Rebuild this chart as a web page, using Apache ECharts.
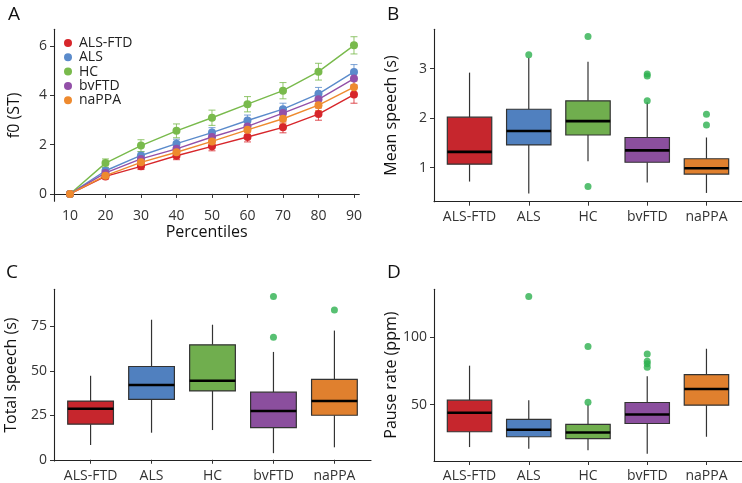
<!DOCTYPE html>
<html><head><meta charset="utf-8">
<script src="https://cdn.jsdelivr.net/npm/echarts@6/dist/echarts.min.js"></script>
<style>html,body{margin:0;padding:0;background:#fff}#c{width:742px;height:483px}</style>
</head><body><div id="c"></div><script>
// ---------- data ----------
const percentiles = [10, 20, 30, 40, 50, 60, 70, 80, 90];
const groups = ['ALS-FTD', 'ALS', 'HC', 'bvFTD', 'naPPA'];

const f0ALSFTD = [0, 0.71, 1.12, 1.55, 1.93, 2.31, 2.70, 3.24, 4.03];
const f0ALS    = [0, 0.94, 1.56, 2.04, 2.49, 2.98, 3.44, 4.06, 4.95];
const f0HC     = [0, 1.25, 1.96, 2.56, 3.09, 3.64, 4.19, 4.96, 6.03];
const f0bvFTD  = [0, 0.85, 1.42, 1.83, 2.31, 2.74, 3.28, 3.84, 4.68];
const f0naPPA  = [0, 0.74, 1.28, 1.69, 2.13, 2.60, 3.05, 3.60, 4.33];

const errALSFTD = [0, 0.10, 0.13, 0.16, 0.18, 0.20, 0.22, 0.25, 0.35];
const errALS    = [0, 0.12, 0.15, 0.18, 0.20, 0.22, 0.24, 0.26, 0.30];
const errHC     = [0, 0.17, 0.24, 0.28, 0.31, 0.31, 0.33, 0.34, 0.35];
const errbvFTD  = [0, 0.10, 0.13, 0.15, 0.17, 0.18, 0.20, 0.22, 0.25];
const errnaPPA  = [0, 0.10, 0.12, 0.14, 0.16, 0.18, 0.20, 0.22, 0.25];

// box stats: [lowerWhisker, Q1, median, Q3, upperWhisker]
const meanSpeechStats = [
  [0.72, 1.07, 1.32, 2.02, 2.92],
  [0.48, 1.46, 1.74, 2.18, 3.22],
  [1.13, 1.66, 1.94, 2.35, 3.14],
  [0.70, 1.11, 1.35, 1.61, 2.32],
  [0.49, 0.87, 0.99, 1.18, 1.61]
];
const meanSpeechOutliers = [[2, 3.28], [3, 3.65], [3, 0.62], [4, 2.89], [4, 2.85], [4, 2.35], [5, 2.08], [5, 1.86]];

const totalSpeechStats = [
  [8.3, 20.0, 28.7, 33.0, 47.2],
  [15.2, 33.9, 42.0, 52.4, 78.7],
  [16.7, 38.7, 44.4, 64.6, 75.9],
  [3.7, 18.1, 27.4, 38.0, 60.6],
  [7.0, 25.0, 33.0, 45.2, 72.6]
];
const totalSpeechOutliers = [[4, 91.7], [4, 68.9], [5, 84.1]];

const pauseRateStats = [
  [18.6, 29.9, 43.9, 53.2, 78.7],
  [17.4, 26.2, 31.4, 39.0, 53.2],
  [16.2, 24.8, 29.4, 35.3, 50.0],
  [13.7, 36.0, 42.6, 51.5, 70.8],
  [26.2, 49.5, 61.5, 72.1, 91.2]
];
const pauseRateOutliers = [[2, 129.7], [3, 92.9], [3, 51.7], [4, 87.3], [4, 81.9], [4, 80.1], [4, 77.5]];

const f0Ticks = [0, 2, 4, 6];
const meanSpeechTicks = [1, 2, 3];
const totalSpeechTicks = [0, 25, 50, 75];
const pauseRateTicks = [50, 100];

// ---------- styles ----------
const FONT = 'Open Sans';
const lineColors = ['#D7262B', '#5B8BCB', '#79BA4C', '#9350A8', '#EE8A2E'];
const boxColors = ['#C6262D', '#5080BF', '#70AE4E', '#8B4F9E', '#E0802E'];
const outlierColor = '#2DB04F';

const chart = echarts.init(document.getElementById('c'), null, {renderer: 'canvas'});

const gridA = {left: 54, top: 29.3, width: 305.3, height: 172};
const gridB = {left: 434, top: 29.3, width: 317, height: 172.4};
const gridC = {left: 54, top: 289.3, width: 317, height: 172.4};
const gridD = {left: 434, top: 289.3, width: 317, height: 172.4};

const axisLineStyle = {show: true, lineStyle: {color: '#222', width: 1.1}};
const tickStyle = {show: true, length: 4, lineStyle: {color: '#333', width: 1}};
const labelStyle = {color: '#333', fontSize: 14, fontFamily: FONT};
const nameStyle = {color: '#111', fontSize: 16, fontFamily: FONT};

function catXAxis(gridIndex) {
  const pos = [1, 2, 3, 4, 5];
  return {
    type: 'value', gridIndex, min: 0.4, max: 5.6,
    axisLine: axisLineStyle, splitLine: {show: false},
    axisTick: Object.assign({}, tickStyle, {customValues: pos}),
    axisLabel: Object.assign({}, labelStyle, {customValues: pos, margin: 8,
      formatter: v => groups[Math.round(v) - 1] || ''})
  };
}
function valYAxis(gridIndex, min, max, ticks, name, gap) {
  return {
    type: 'value', gridIndex, min, max,
    name, nameLocation: 'middle', nameGap: gap, nameTextStyle: nameStyle,
    axisLine: axisLineStyle, splitLine: {show: false},
    axisTick: Object.assign({}, tickStyle, {customValues: ticks}),
    axisLabel: Object.assign({}, labelStyle, {customValues: ticks, margin: 7})
  };
}

function boxSeries(stats, axisIndex) {
  return {
    type: 'custom', xAxisIndex: axisIndex, yAxisIndex: axisIndex,
    data: stats.map((s, i) => [i + 1].concat(s).concat([i])),
    encode: {x: 0, y: [1, 2, 3, 4, 5]},
    renderItem: function (params, api) {
      const x = api.value(0);
      const pMin = api.coord([x, api.value(1)]);
      const pQ1 = api.coord([x, api.value(2)]);
      const pMed = api.coord([x, api.value(3)]);
      const pQ3 = api.coord([x, api.value(4)]);
      const pMax = api.coord([x, api.value(5)]);
      const half = api.size([0.75, 0])[0] / 2;
      const col = boxColors[api.value(6)];
      const stroke = '#333';
      return {type: 'group', children: [
        {type: 'line', shape: {x1: pMin[0], y1: pMin[1], x2: pMin[0], y2: pQ1[1]}, style: {stroke, lineWidth: 1.2}},
        {type: 'line', shape: {x1: pMax[0], y1: pMax[1], x2: pMax[0], y2: pQ3[1]}, style: {stroke, lineWidth: 1.2}},
        {type: 'rect', shape: {x: pQ3[0] - half, y: pQ3[1], width: half * 2, height: pQ1[1] - pQ3[1]},
          style: {fill: col, stroke, lineWidth: 1.2}},
        {type: 'line', shape: {x1: pMed[0] - half, y1: pMed[1], x2: pMed[0] + half, y2: pMed[1]},
          style: {stroke: '#000', lineWidth: 2.6}}
      ]};
    },
    z: 2
  };
}
function outlierSeries(pts, axisIndex) {
  return {
    type: 'scatter', xAxisIndex: axisIndex, yAxisIndex: axisIndex,
    data: pts, symbol: 'circle', symbolSize: 7,
    itemStyle: {color: outlierColor}, z: 3
  };
}

const f0Means = [f0ALSFTD, f0ALS, f0HC, f0bvFTD, f0naPPA];
const f0Errs = [errALSFTD, errALS, errHC, errbvFTD, errnaPPA];

const series = [];
groups.forEach((g, gi) => {
  series.push({
    name: g + ' err', type: 'custom', xAxisIndex: 0, yAxisIndex: 0,
    data: percentiles.map((p, i) => [p, f0Means[gi][i], f0Errs[gi][i]]),
    encode: {x: 0, y: 1},
    renderItem: function (params, api) {
      const x = api.value(0), m = api.value(1), e = api.value(2);
      if (!e) return null;
      const lo = api.coord([x, m - e]);
      const hi = api.coord([x, m + e]);
      const c = lineColors[gi];
      const st = {stroke: c, lineWidth: 1.1, opacity: 0.75};
      return {type: 'group', children: [
        {type: 'line', shape: {x1: lo[0], y1: lo[1], x2: hi[0], y2: hi[1]}, style: st},
        {type: 'line', shape: {x1: lo[0] - 3.5, y1: lo[1], x2: lo[0] + 3.5, y2: lo[1]}, style: st},
        {type: 'line', shape: {x1: hi[0] - 3.5, y1: hi[1], x2: hi[0] + 3.5, y2: hi[1]}, style: st}
      ]};
    },
    z: 2
  });
});
groups.forEach((g, gi) => {
  series.push({
    name: g, type: 'line', xAxisIndex: 0, yAxisIndex: 0,
    data: percentiles.map((p, i) => [p, f0Means[gi][i]]),
    symbol: 'circle', symbolSize: 8, showSymbol: true,
    lineStyle: {color: lineColors[gi], width: 1.4},
    itemStyle: {color: lineColors[gi]},
    z: 3, animation: false
  });
});
series.push(boxSeries(meanSpeechStats, 1), outlierSeries(meanSpeechOutliers, 1));
series.push(boxSeries(totalSpeechStats, 2), outlierSeries(totalSpeechOutliers, 2));
series.push(boxSeries(pauseRateStats, 3), outlierSeries(pauseRateOutliers, 3));

const letterStyle = {fontSize: 19, fontWeight: 'normal', color: '#111', fontFamily: FONT};

chart.setOption({
  animation: false,
  backgroundColor: '#fff',
  title: [
    {text: 'A', left: 3, top: 0, textStyle: letterStyle},
    {text: 'B', left: 382, top: 0, textStyle: letterStyle},
    {text: 'C', left: 1, top: 258, textStyle: letterStyle},
    {text: 'D', left: 382, top: 258, textStyle: letterStyle}
  ],
  legend: {
    data: groups, orient: 'vertical', left: 59, top: 31,
    icon: 'circle', itemWidth: 8, itemHeight: 8, itemGap: 0.3,
    textStyle: {color: '#222', fontSize: 14, fontFamily: FONT, lineHeight: 14, padding: [0, 0, 0, 2]},
    selectedMode: false
  },
  grid: [gridA, gridB, gridC, gridD],
  xAxis: [
    {
      type: 'value', gridIndex: 0, min: 5.5, max: 91.5,
      name: 'Percentiles', nameLocation: 'middle', nameGap: 21, nameTextStyle: nameStyle,
      axisLine: axisLineStyle, splitLine: {show: false},
      axisTick: Object.assign({}, tickStyle, {customValues: percentiles}),
      axisLabel: Object.assign({}, labelStyle, {customValues: percentiles, margin: 8})
    },
    catXAxis(1), catXAxis(2), catXAxis(3)
  ],
  yAxis: [
    valYAxis(0, -0.3, 6.68, f0Ticks, 'f0 (ST)', 32),
    valYAxis(1, 0.313, 3.795, meanSpeechTicks, 'Mean speech (s)', 35),
    valYAxis(2, -0.7, 95.8, totalSpeechTicks, 'Total speech (s)', 35),
    valYAxis(3, 8.3, 135.1, pauseRateTicks, 'Pause rate (ppm)', 35)
  ],
  series
});
</script></body></html>
